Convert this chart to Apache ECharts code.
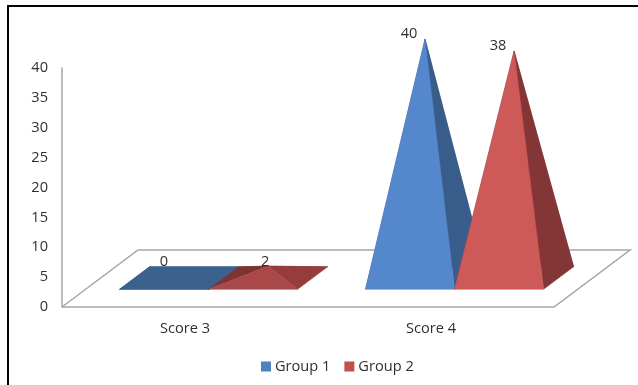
<!DOCTYPE html>
<html>
<head>
<meta charset="utf-8">
<style>html,body{margin:0;padding:0;background:#fff}#chart{width:638px;height:385px}</style>
<script src="https://cdn.jsdelivr.net/npm/echarts@6/dist/echarts.min.js"></script>
</head>
<body>
<div id="chart"></div>
<script>
const categories = ['Score 3', 'Score 4'];
const group1 = [0, 40];
const group2 = [2, 38];
const yTicks = { min: 0, max: 40, interval: 5 };

// Oblique projection of the chart floor
const DEPTH_X = 76, DEPTH_Y = 57;
const BASE_FRONT = 0.31, BASE_BACK = 0.705;
const BAR_SHARE = 0.362;

const FONT = '"Open Sans", sans-serif';
const FONT_SIZE = 14.6;
const TEXT = '#2f2f2f';

const palette = [
  { key: '#4f81bd', front: '#5587cc', side: '#385d8a', lowFront: '#3b618e', lowSide: '#3b618e', lowLeft: '#3b618e' },
  { key: '#c0504d', front: '#cd5958', side: '#843636', lowFront: '#a94848', lowSide: '#963c3c', lowLeft: '#7e3232' }
];

// Value-label nudges relative to each pyramid's apex: [series][category]
const labelNudge = [
  [[-15, -16], [-16, -5]],
  [[-3, -4], [-16, -5]]
];

function pyramid(seriesIdx) {
  return function (params, api) {
    const cat = api.value(0), v = api.value(1);
    const origin = api.coord([cat, 0]);
    const tip = api.coord([cat, v]);
    const band = api.size([1, 0])[0];
    const w = band * BAR_SHARE;
    // Group 1 sits left of the band centre, Group 2 right of it
    const left = origin[0] + (seriesIdx === 0 ? -w : 0);
    const at = (dx, depth) => [left + dx + DEPTH_X * depth, origin[1] - DEPTH_Y * depth];
    const fl = at(0, BASE_FRONT), fr = at(w, BASE_FRONT);
    const bl = at(0, BASE_BACK), br = at(w, BASE_BACK);
    const mid = at(w / 2, (BASE_FRONT + BASE_BACK) / 2);
    const apex = [mid[0], mid[1] - (origin[1] - tip[1])];
    const p = palette[seriesIdx];
    const low = v < 5;
    const face = (pts, fill) => ({
      type: 'polygon', shape: { points: pts },
      style: { fill: fill, stroke: fill, lineWidth: 0.5 }
    });
    const children = [
      face([bl, br, apex], low ? p.lowLeft : p.side),
      face([fl, bl, apex], low ? p.lowLeft : p.side),
      face([fr, br, apex], low ? p.lowSide : p.side),
      face([fl, fr, apex], low ? p.lowFront : p.front)
    ];
    // A zero-height pyramid collapses to its flat base
    if (v === 0) children.push(face([fl, fr, br, bl], p.lowFront));
    const nudge = labelNudge[seriesIdx][cat];
    children.push({
      type: 'text',
      style: {
        text: String(v), x: apex[0] + nudge[0], y: apex[1] + nudge[1],
        align: 'center', verticalAlign: 'middle',
        font: FONT_SIZE + 'px ' + FONT, fill: TEXT
      }
    });
    return { type: 'group', children: children };
  };
}

function floor(params) {
  const c = params.coordSys;
  const x0 = c.x, y0 = c.y + c.height, x1 = c.x + c.width;
  return {
    type: 'polyline',
    shape: {
      points: [
        [x0, y0], [x0 + DEPTH_X, y0 - DEPTH_Y], [x1 + DEPTH_X, y0 - DEPTH_Y],
        [x1, y0], [x0, y0]
      ]
    },
    style: { fill: 'none', stroke: '#a6a6a6', lineWidth: 1.5 }
  };
}

const chart = echarts.init(document.getElementById('chart'), null, { renderer: 'canvas' });
chart.setOption({
  animation: false,
  backgroundColor: '#fff',
  grid: { left: 62, top: 68, width: 492, height: 239, containLabel: false },
  xAxis: {
    type: 'category', data: categories,
    axisLine: { show: false }, axisTick: { show: false }, splitLine: { show: false },
    axisLabel: { color: TEXT, fontFamily: FONT, fontSize: FONT_SIZE, margin: 14 }
  },
  yAxis: {
    type: 'value', min: yTicks.min, max: yTicks.max, interval: yTicks.interval,
    axisLine: { show: true, lineStyle: { color: '#a6a6a6', width: 1.5 } },
    axisTick: { show: false }, splitLine: { show: false },
    axisLabel: { color: TEXT, fontFamily: FONT, fontSize: FONT_SIZE, margin: 14, padding: [3, 0, 0, 0] }
  },
  legend: {
    data: ['Group 1', 'Group 2'],
    left: 261, top: 359, padding: 0, itemWidth: 10, itemHeight: 10, itemGap: 14,
    icon: 'rect',
    textStyle: { color: TEXT, fontFamily: FONT, fontSize: FONT_SIZE, padding: [1, 0, 0, -1] }
  },
  graphic: [
    { type: 'line', silent: true, shape: { x1: 7, y1: 6, x2: 638, y2: 6 }, style: { stroke: '#000', lineWidth: 2 } },
    { type: 'line', silent: true, shape: { x1: 8, y1: 5, x2: 8, y2: 385 }, style: { stroke: '#000', lineWidth: 2 } }
  ],
  series: [
    { name: 'floor', type: 'custom', renderItem: floor, data: [[0, 0]], silent: true, encode: { x: 0, y: 1 }, z: 1 },
    {
      name: 'Group 1', type: 'custom', renderItem: pyramid(0), z: 2,
      itemStyle: { color: palette[0].key }, encode: { x: 0, y: 1 },
      data: group1.map((v, i) => [i, v])
    },
    {
      name: 'Group 2', type: 'custom', renderItem: pyramid(1), z: 3,
      itemStyle: { color: palette[1].key }, encode: { x: 0, y: 1 },
      data: group2.map((v, i) => [i, v])
    }
  ]
});
</script>
</body>
</html>
